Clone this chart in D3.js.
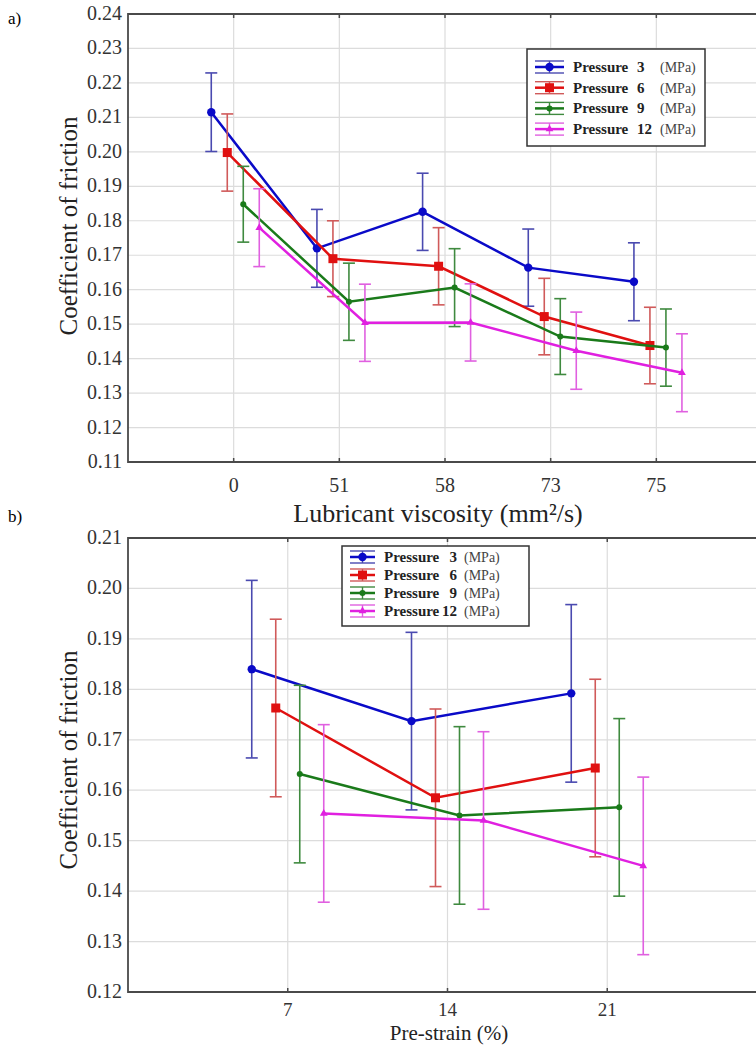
<!DOCTYPE html>
<html>
<head>
<meta charset="utf-8">
<script src="https://cdn.jsdelivr.net/npm/d3@7"></script>
<style>
  body { margin: 0; background: #fff; }
  svg { display: block; }
  svg text { font-family: "Liberation Serif", "Times New Roman", serif; }
</style>
</head>
<body>
<script>
// ---- data: panel a (lubricant viscosity) ----
var viscosity = ["0", "51", "58", "73", "75"];
var seriesNames = ["Pressure  3", "Pressure  6", "Pressure  9", "Pressure 12"];
var aMean = [
  [0.2115, 0.1720, 0.1826, 0.1664, 0.1623],
  [0.1998, 0.1690, 0.1668, 0.1522, 0.1438],
  [0.1848, 0.1565, 0.1606, 0.1464, 0.1432],
  [0.1780, 0.1504, 0.1505, 0.1423, 0.1359]
];
var aErr = [
  [0.0114, 0.0113, 0.0112, 0.0112, 0.0113],
  [0.0112, 0.0110, 0.0112, 0.0111, 0.0111],
  [0.0110, 0.0112, 0.0113, 0.0110, 0.0112],
  [0.0113, 0.0112, 0.0112, 0.0112, 0.0113]
];
var aTicks = [0.11, 0.12, 0.13, 0.14, 0.15, 0.16, 0.17, 0.18, 0.19, 0.20, 0.21, 0.22, 0.23, 0.24];

// ---- data: panel b (pre-strain) ----
var preStrain = ["7", "14", "21"];
var bMean = [
  [0.1840, 0.1737, 0.1792],
  [0.1763, 0.1585, 0.1644],
  [0.1632, 0.1550, 0.1566],
  [0.1554, 0.1540, 0.1450]
];
var bErr = [
  [0.0176, 0.0176, 0.0176],
  [0.0176, 0.0176, 0.0176],
  [0.0176, 0.0176, 0.0176],
  [0.0176, 0.0176, 0.0176]
];
var bTicks = [0.12, 0.13, 0.14, 0.15, 0.16, 0.17, 0.18, 0.19, 0.20, 0.21];

var lineColors = ["#0a0ac8", "#e01010", "#1a7a1a", "#e020e0"];
var errColors = ["#4a4ab0", "#d05a5a", "#3f8a3f", "#e060e0"];
var markers = ["circle", "square", "dot", "triangle"];

var svg = d3.select("body").append("svg")
  .attr("width", 756)
  .attr("height", 1045);

function drawPanel(cfg) {
  var x = d3.scalePoint().domain(cfg.cats).range([cfg.left, cfg.right]).padding(1);
  var y = d3.scaleLinear().domain(cfg.yDomain).range([cfg.bottom, cfg.top]);
  var g = svg.append("g");

  // gridlines
  g.selectAll(".hgrid").data(cfg.ticks).enter().append("line")
    .attr("x1", cfg.left).attr("x2", cfg.right)
    .attr("y1", function(d) { return y(d); }).attr("y2", function(d) { return y(d); })
    .attr("stroke", "#dcdcdc").attr("stroke-width", 1.2);
  g.selectAll(".vgrid").data(cfg.cats).enter().append("line")
    .attr("x1", function(d) { return x(d); }).attr("x2", function(d) { return x(d); })
    .attr("y1", cfg.top).attr("y2", cfg.bottom)
    .attr("stroke", "#dcdcdc").attr("stroke-width", 1.2);

  // frame
  g.append("path")
    .attr("d", "M" + cfg.right + "," + cfg.top + "H" + cfg.left + "V" + cfg.bottom + "H" + cfg.right)
    .attr("fill", "none").attr("stroke", "#4a4a4a").attr("stroke-width", 1.8);

  // x ticks (top and bottom)
  cfg.cats.forEach(function(c) {
    g.append("line").attr("x1", x(c)).attr("x2", x(c))
      .attr("y1", cfg.bottom).attr("y2", cfg.bottom - 4)
      .attr("stroke", "#4a4a4a").attr("stroke-width", 1.5);
    g.append("line").attr("x1", x(c)).attr("x2", x(c))
      .attr("y1", cfg.top).attr("y2", cfg.top + 4)
      .attr("stroke", "#4a4a4a").attr("stroke-width", 1.5);
  });

  // y tick labels
  g.selectAll(".ylab").data(cfg.ticks).enter().append("text")
    .attr("x", cfg.left - 6)
    .attr("y", function(d) { return y(d) + 6; })
    .attr("text-anchor", "end")
    .attr("font-size", 20).attr("fill", "#333")
    .text(function(d) { return d3.format(".2f")(d); });

  // x tick labels
  g.selectAll(".xlab").data(cfg.cats).enter().append("text")
    .attr("x", function(d) { return x(d); })
    .attr("y", cfg.bottom + cfg.xLabOff)
    .attr("text-anchor", "middle")
    .attr("font-size", cfg.xLabSize).attr("fill", "#333")
    .text(function(d) { return d; });

  // axis titles
  g.append("text")
    .attr("x", cfg.xTitleX).attr("y", cfg.xTitleY)
    .attr("text-anchor", "middle")
    .attr("font-size", cfg.xTitleSize).attr("fill", "#222")
    .text(cfg.xTitle);
  g.append("text")
    .attr("transform", "translate(" + 77 + "," + cfg.yTitleY + ") rotate(-90)")
    .attr("text-anchor", "middle")
    .attr("font-size", 25).attr("fill", "#222")
    .text("Coefficient of friction");

  // panel label
  g.append("text")
    .attr("x", 8).attr("y", cfg.labelY)
    .attr("font-size", 17).attr("fill", "#000")
    .text(cfg.label);

  var off = function(i) { return (i - cfg.offCenter) * cfg.offStep; };

  cfg.mean.forEach(function(vals, i) {
    var pts = vals.map(function(v, j) {
      return { x: x(cfg.cats[j]) + off(i), v: v, e: cfg.err[i][j] };
    });
    // error bars
    pts.forEach(function(p) {
      var eg = g.append("g").attr("stroke", errColors[i]).attr("stroke-width", 1.6);
      eg.append("line").attr("x1", p.x).attr("x2", p.x)
        .attr("y1", y(p.v + p.e)).attr("y2", y(p.v - p.e));
      eg.append("line").attr("x1", p.x - 6).attr("x2", p.x + 6)
        .attr("y1", y(p.v + p.e)).attr("y2", y(p.v + p.e));
      eg.append("line").attr("x1", p.x - 6).attr("x2", p.x + 6)
        .attr("y1", y(p.v - p.e)).attr("y2", y(p.v - p.e));
    });
    // line
    g.append("path")
      .datum(pts)
      .attr("fill", "none")
      .attr("stroke", lineColors[i])
      .attr("stroke-width", 2.5)
      .attr("d", d3.line().x(function(p) { return p.x; }).y(function(p) { return y(p.v); }));
    // markers
    pts.forEach(function(p) { drawMarker(g, markers[i], p.x, y(p.v), lineColors[i]); });
  });

  // legend
  var lg = g.append("g");
  lg.append("rect")
    .attr("x", cfg.legend.x).attr("y", cfg.legend.y)
    .attr("width", cfg.legend.w).attr("height", cfg.legend.h)
    .attr("fill", "#fff").attr("stroke", "#333").attr("stroke-width", 1.5);
  seriesNames.forEach(function(name, i) {
    var cy = cfg.legend.y + cfg.legend.first + i * cfg.legend.step;
    var sx = cfg.legend.x + 8, sw = cfg.legend.sym;
    var cx = sx + sw / 2;
    var eg = lg.append("g").attr("stroke", errColors[i]).attr("stroke-width", 1.4);
    eg.append("line").attr("x1", sx).attr("x2", sx + sw).attr("y1", cy - 6).attr("y2", cy - 6);
    eg.append("line").attr("x1", sx).attr("x2", sx + sw).attr("y1", cy + 6).attr("y2", cy + 6);
    eg.append("line").attr("x1", cx).attr("x2", cx).attr("y1", cy - 6).attr("y2", cy + 6);
    lg.append("line").attr("x1", sx).attr("x2", sx + sw).attr("y1", cy).attr("y2", cy)
      .attr("stroke", lineColors[i]).attr("stroke-width", 2.5);
    drawMarker(lg, markers[i], cx, cy, lineColors[i]);
    var parts = name.split(/\s+/);
    lg.append("text")
      .attr("x", sx + sw + 9).attr("y", cy + 5)
      .attr("font-size", 15).attr("font-weight", "bold").attr("fill", "#222")
      .text(parts[0]);
    lg.append("text")
      .attr("x", cfg.legend.numX).attr("y", cy + 5)
      .attr("text-anchor", cfg.legend.numAnchor)
      .attr("font-size", 15).attr("font-weight", "bold").attr("fill", "#222")
      .text(parts[1]);
    lg.append("text")
      .attr("x", cfg.legend.unitX).attr("y", cy + 5)
      .attr("font-size", 14).attr("fill", "#444")
      .text("(MPa)");
  });
}

function drawMarker(g, type, cx, cy, color) {
  if (type === "circle") {
    g.append("circle").attr("cx", cx).attr("cy", cy).attr("r", 4.2).attr("fill", color);
  } else if (type === "square") {
    g.append("rect").attr("x", cx - 4.5).attr("y", cy - 4.5).attr("width", 9).attr("height", 9).attr("fill", color);
  } else if (type === "dot") {
    g.append("circle").attr("cx", cx).attr("cy", cy).attr("r", 3).attr("fill", color);
  } else {
    g.append("path").attr("transform", "translate(" + cx + "," + cy + ")")
      .attr("d", d3.symbol().type(d3.symbolTriangle).size(26)()).attr("fill", color);
  }
}

drawPanel({
  cats: viscosity, mean: aMean, err: aErr, ticks: aTicks,
  yDomain: [0.11, 0.24], left: 128, right: 762, top: 14, bottom: 462,
  offCenter: 1.4, offStep: 16, xLabOff: 30, xLabSize: 20,
  xTitle: "Lubricant viscosity (mm\u00B2/s)", xTitleX: 438, xTitleY: 522, xTitleSize: 26,
  yTitleY: 226, label: "a)", labelY: 24,
  legend: { x: 527, y: 49, w: 178, h: 97, first: 18, step: 20.7, sym: 29,
            numX: 637, numAnchor: "start", unitX: 660 }
});

drawPanel({
  cats: preStrain, mean: bMean, err: bErr, ticks: bTicks,
  yDomain: [0.12, 0.21], left: 128, right: 767, top: 538, bottom: 992,
  offCenter: 1.5, offStep: 24, xLabOff: 24, xLabSize: 19,
  xTitle: "Pre-strain (%)", xTitleX: 449, xTitleY: 1040, xTitleSize: 21,
  yTitleY: 760, label: "b)", labelY: 522,
  legend: { x: 342, y: 546, w: 187, h: 80, first: 11, step: 18, sym: 25,
            numX: 457, numAnchor: "end", unitX: 464 }
});
</script>
</body>
</html>
